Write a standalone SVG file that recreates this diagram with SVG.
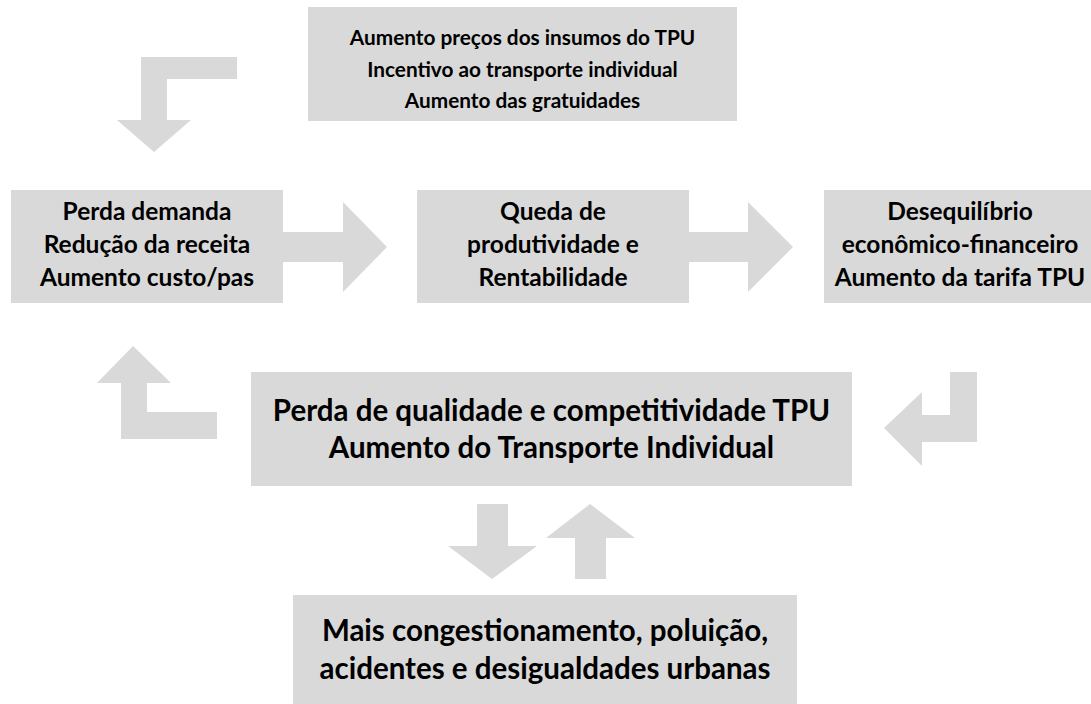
<svg xmlns="http://www.w3.org/2000/svg" width="1091" height="704" viewBox="0 0 1091 704">
<style>
.box{fill:#d9d9d9}
.arr{fill:#d9d9d9}
text{font-family:Lato,"Open Sans","Liberation Sans",sans-serif;font-weight:bold;fill:#000;text-anchor:middle}
.t{font-size:20.8px}
.s{font-size:24.5px}
.l{font-size:29.5px}
</style>
<rect width="1091" height="704" fill="#fff"/>
<g id="connectors">
<polygon class="arr" points="237,57 141,57 141,120 117,120 154,152 191,120 167,120 167,79 237,79"/>
<polygon class="arr" points="133,346 171,383 147,383 147,412 217,412 217,439 121,439 121,383 97,383"/>
<polygon class="arr" points="950,372 977,372 977,442 922,442 922,466 884,428 922,392 922,415 950,415"/>
<polygon class="arr" points="283,232 343,232 343,202 387,247 343,292 343,262 283,262"/>
<polygon class="arr" points="689,232 748,232 748,202 793,247 748,292 748,262 689,262"/>
<polygon class="arr" points="477,504 508,504 508,546 537,546 492,579 448,546 477,546"/>
<polygon class="arr" points="590,504 635,538 606,538 606,579 575,579 575,538 546,538"/>
</g>
<g id="node-top">
<rect class="box" x="308" y="7" width="429" height="114"/>
<text class="t" x="522.5" y="45">Aumento preços dos insumos do TPU</text>
<text class="t" x="522.5" y="76.5">Incentivo ao transporte individual</text>
<text class="t" x="522.5" y="108">Aumento das gratuidades</text>
</g>
<g id="node-left">
<rect class="box" x="11" y="190" width="272" height="113"/>
<text class="s" x="147" y="220">Perda demanda</text>
<text class="s" x="147" y="253">Redução da receita</text>
<text class="s" x="147" y="286">Aumento custo/pas</text>
</g>
<g id="node-middle">
<rect class="box" x="417" y="190" width="272" height="113"/>
<text class="s" x="553" y="220">Queda de</text>
<text class="s" x="553" y="253">produtividade e</text>
<text class="s" x="553" y="286">Rentabilidade</text>
</g>
<g id="node-right">
<rect class="box" x="824" y="190" width="272" height="113"/>
<text class="s" x="960" y="220">Desequilíbrio</text>
<text class="s" x="960" y="253">econômico-financeiro</text>
<text class="s" x="960" y="286">Aumento da tarifa TPU</text>
</g>
<g id="node-center">
<rect class="box" x="251" y="372" width="601" height="114"/>
<text class="l" x="551.5" y="421">Perda de qualidade e competitividade TPU</text>
<text class="l" x="551.5" y="458">Aumento do Transporte Individual</text>
</g>
<g id="node-bottom">
<rect class="box" x="293" y="595" width="504" height="109"/>
<text class="l" x="545" y="641">Mais congestionamento, poluição,</text>
<text class="l" x="545" y="679">acidentes e desigualdades urbanas</text>
</g>
</svg>
